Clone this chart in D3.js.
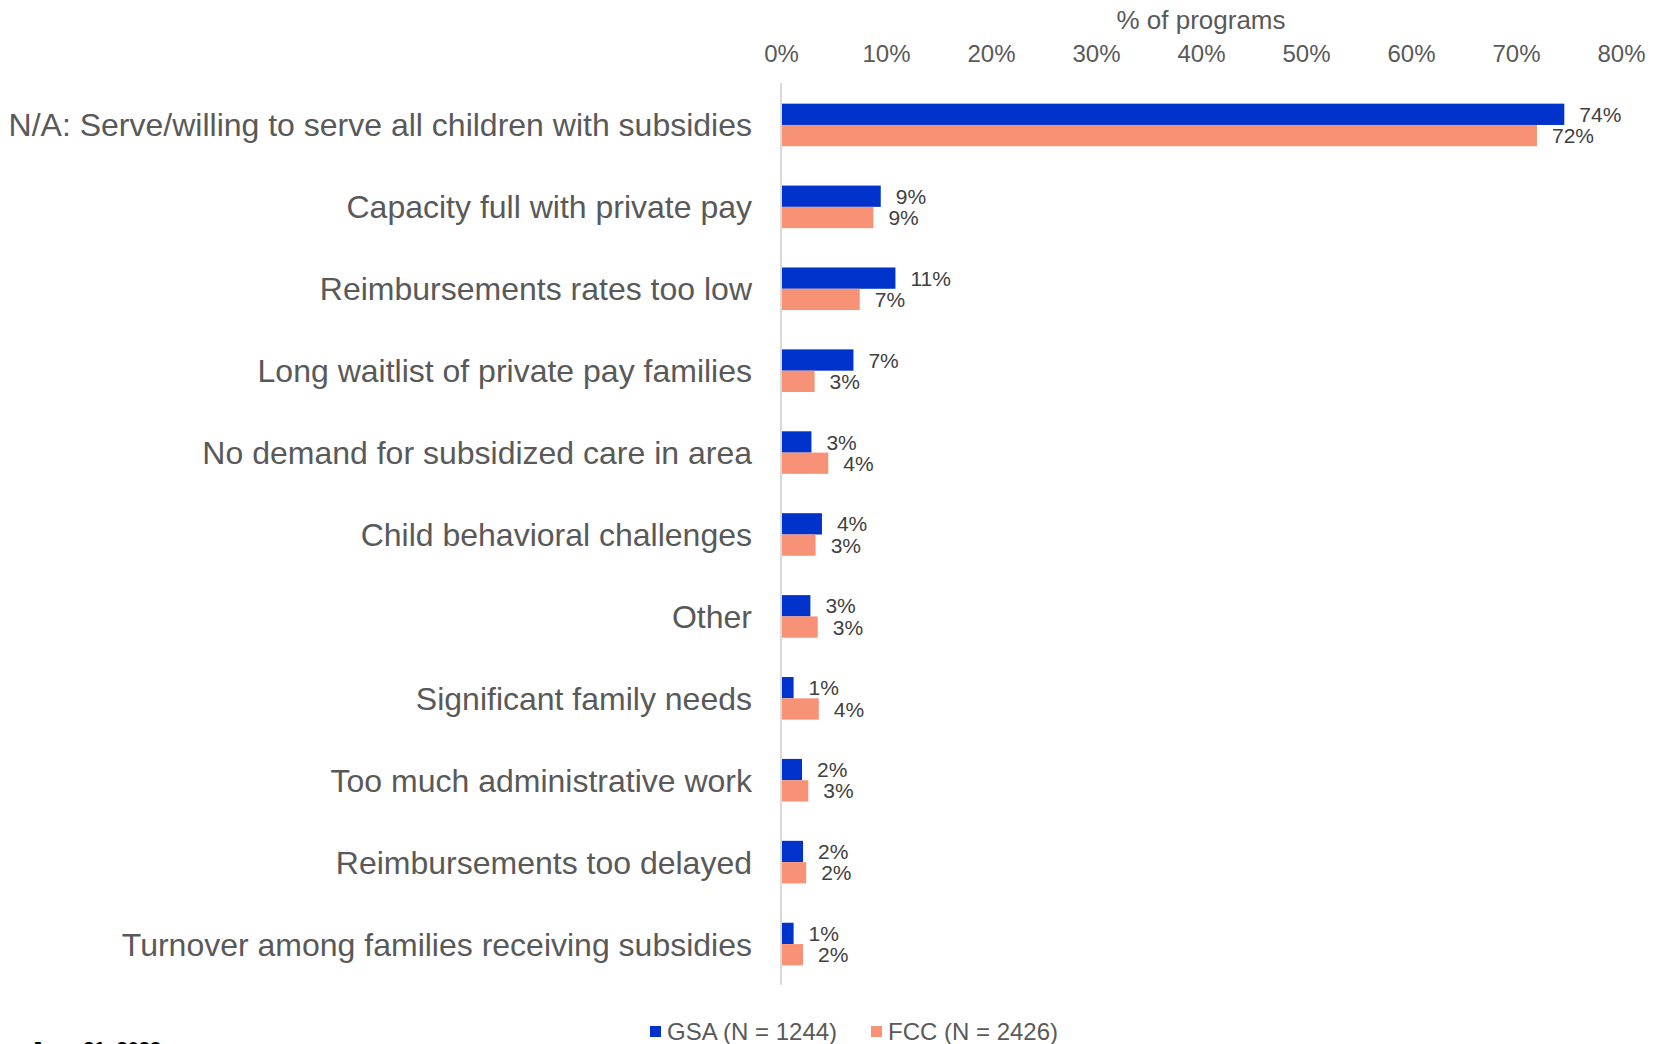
<!DOCTYPE html>
<html>
<head>
<meta charset="utf-8">
<title>Reasons for not serving children with subsidies</title>
<script src="https://cdn.jsdelivr.net/npm/d3@7"></script>
<style>
  body { margin: 0; background: #fff; }
  text { font-family: "Liberation Sans", Arial, sans-serif; }
</style>
</head>
<body>
<svg id="main" width="1654" height="1044"></svg>
<script>
// DATA
var categories = [
  "N/A: Serve/willing to serve all children with subsidies",
  "Capacity full with private pay",
  "Reimbursements rates too low",
  "Long waitlist of private pay families",
  "No demand for subsidized care in area",
  "Child behavioral challenges",
  "Other",
  "Significant family needs",
  "Too much administrative work",
  "Reimbursements too delayed",
  "Turnover among families receiving subsidies"
];
var seriesNames = ["GSA (N = 1244)", "FCC (N = 2426)"];
var gsaValues = [0.746, 0.095, 0.109, 0.069, 0.029, 0.039, 0.028, 0.012, 0.020, 0.021, 0.012];
var fccValues = [0.720, 0.088, 0.075, 0.032, 0.045, 0.033, 0.035, 0.036, 0.026, 0.024, 0.021];
var gsaLabels = ["74%", "9%", "11%", "7%", "3%", "4%", "3%", "1%", "2%", "2%", "1%"];
var fccLabels = ["72%", "9%", "7%", "3%", "4%", "3%", "3%", "4%", "3%", "2%", "2%"];
var xTicks = [0, 0.1, 0.2, 0.3, 0.4, 0.5, 0.6, 0.7, 0.8];
var colors = ["#0033cc", "#f79276"];

var svg = d3.select("#main");

// SCALES
var x = d3.scaleLinear().domain([0, 0.8]).range([781, 1621]);
var y = d3.scaleBand().domain(categories).range([84, 985])
    .paddingInner(0.48).paddingOuter(0.24);
var ySub = d3.scaleBand().domain([0, 1]).range([0, y.bandwidth()]);

// TOP AXIS
var xAxis = d3.axisTop(x).tickValues(xTicks).tickFormat(d3.format(".0%")).tickSize(0);
var gx = svg.append("g").attr("transform", "translate(0,65)").call(xAxis);
gx.select(".domain").remove();
gx.selectAll("text").attr("font-size", 24).attr("fill", "#595959").attr("dy", 0)
  .style("font-family", "Liberation Sans, Arial, sans-serif");

svg.append("text")
  .attr("x", (x.range()[0] + x.range()[1]) / 2)
  .attr("y", 29)
  .attr("text-anchor", "middle")
  .attr("font-size", 26)
  .attr("fill", "#595959")
  .text("% of programs");

// BARS
var rows = categories.map(function(c, i) {
  return { cat: c, vals: [gsaValues[i], fccValues[i]], labs: [gsaLabels[i], fccLabels[i]] };
});

var row = svg.selectAll("g.row").data(rows).enter().append("g")
  .attr("class", "row")
  .attr("transform", function(d) { return "translate(0," + y(d.cat) + ")"; });

[0, 1].forEach(function(s) {
  row.append("rect")
    .attr("x", x(0))
    .attr("y", ySub(s))
    .attr("width", function(d) { return x(d.vals[s]) - x(0); })
    .attr("height", ySub.bandwidth())
    .attr("fill", colors[s]);
  row.append("text")
    .attr("x", function(d) { return x(d.vals[s]) + 15; })
    .attr("y", ySub(s) + ySub.bandwidth() / 2)
    .attr("dy", "0.36em")
    .attr("font-size", 21)
    .attr("fill", "#404040")
    .text(function(d) { return d.labs[s]; });
});

// category labels
row.append("text")
  .attr("x", 752)
  .attr("y", y.bandwidth() / 2)
  .attr("dy", "0.36em")
  .attr("text-anchor", "end")
  .attr("font-size", 32)
  .attr("fill", "#595959")
  .text(function(d) { return d.cat; });

// vertical axis line
svg.append("line")
  .attr("x1", x(0)).attr("x2", x(0))
  .attr("y1", 83).attr("y2", 985)
  .attr("stroke", "#d9d9d9").attr("stroke-width", 2);

// LEGEND
var legendX = [650, 871];
seriesNames.forEach(function(n, i) {
  svg.append("rect")
    .attr("x", legendX[i]).attr("y", 1026)
    .attr("width", 11).attr("height", 11)
    .attr("fill", colors[i]);
  svg.append("text")
    .attr("x", legendX[i] + 17).attr("y", 1040)
    .attr("font-size", 24)
    .attr("fill", "#595959")
    .text(n);
});

// date footer (cut off at bottom edge, as in the source)
svg.append("text")
  .attr("x", 31).attr("y", 1056)
  .attr("font-size", 20)
  .attr("font-weight", "bold")
  .attr("fill", "#000")
  .text("June 21, 2023");
</script>
</body>
</html>
